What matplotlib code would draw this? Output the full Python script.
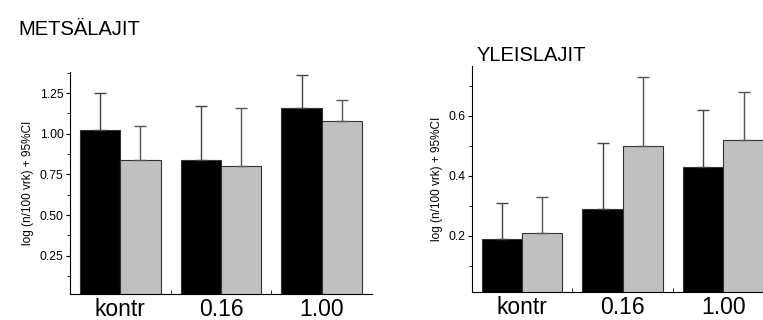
from matplotlib import pyplot as plt
from matplotlib.ticker import MultipleLocator
import numpy as np

plt.rcParams['font.family'] = ['Liberation Sans', 'DejaVu Sans']

groups = ['kontr', '0.16', '1.00']

# METSÄLAJIT
metsa_black = [1.02, 0.84, 1.16]
metsa_black_top = [1.25, 1.17, 1.36]
metsa_gray = [0.84, 0.80, 1.08]
metsa_gray_top = [1.05, 1.16, 1.21]

# YLEISLAJIT
yleis_black = [0.19, 0.29, 0.43]
yleis_black_top = [0.31, 0.51, 0.62]
yleis_gray = [0.21, 0.50, 0.52]
yleis_gray_top = [0.33, 0.73, 0.68]

fig = plt.figure(figsize=(7.63, 3.2), dpi=100)


def panel(rect, black, black_top, gray, gray_top, ylim, major, minor, fmt):
    ax = fig.add_axes(rect)
    x = np.arange(len(groups))
    w = 0.4
    b1 = np.array(black)
    b2 = np.array(gray)
    ax.bar(x - w/2, b1, w, color='black', edgecolor='#333333', linewidth=0.8, zorder=2)
    ax.bar(x + w/2, b2, w, color='#c0c0c0', edgecolor='#333333', linewidth=0.8, zorder=2)
    ax.errorbar(x - w/2, b1, yerr=[np.zeros(3), np.array(black_top) - b1], fmt='none',
                ecolor='#444444', elinewidth=1.0, capsize=4, capthick=1.0, zorder=3)
    ax.errorbar(x + w/2, b2, yerr=[np.zeros(3), np.array(gray_top) - b2], fmt='none',
                ecolor='#555555', elinewidth=1.0, capsize=4, capthick=1.0, zorder=3)
    ax.set_xlim(-0.5, 2.5)
    ax.set_ylim(*ylim)
    ax.spines['top'].set_visible(False)
    ax.spines['right'].set_visible(False)
    ax.yaxis.set_major_locator(MultipleLocator(major))
    ax.yaxis.set_minor_locator(MultipleLocator(minor))
    ax.yaxis.set_major_formatter(fmt)
    ax.tick_params(axis='y', which='major', length=3, labelsize=8.7, pad=1.5)
    ax.tick_params(axis='y', which='minor', length=2)
    ax.set_xticks(x)
    ax.set_xticklabels(groups, fontsize=16.5)
    ax.set_xticks([0.5, 1.5], minor=True)
    ax.tick_params(axis='x', which='major', length=0, pad=3)
    ax.tick_params(axis='x', which='minor', length=3, direction='in')
    ax.set_ylabel('log (n/100 vrk) + 95%CI', fontsize=8.5, labelpad=4)
    return ax


panel([0.0917, 0.08125, 0.396, 0.694], metsa_black, metsa_black_top, metsa_gray, metsa_gray_top,
      (0.015, 1.38), 0.25, 0.125, '{x:.2f}')
panel([0.6182, 0.0884, 0.396, 0.7056], yleis_black, yleis_black_top, yleis_gray, yleis_gray_top,
      (0.013, 0.767), 0.2, 0.1, '{x:.1f}')

fig.text(0.024, 0.89, 'METSÄLAJIT', fontsize=14.5, va='baseline')
fig.text(0.624, 0.81, 'YLEISLAJIT', fontsize=14.5, va='baseline')

plt.savefig('out.png', dpi=100)
